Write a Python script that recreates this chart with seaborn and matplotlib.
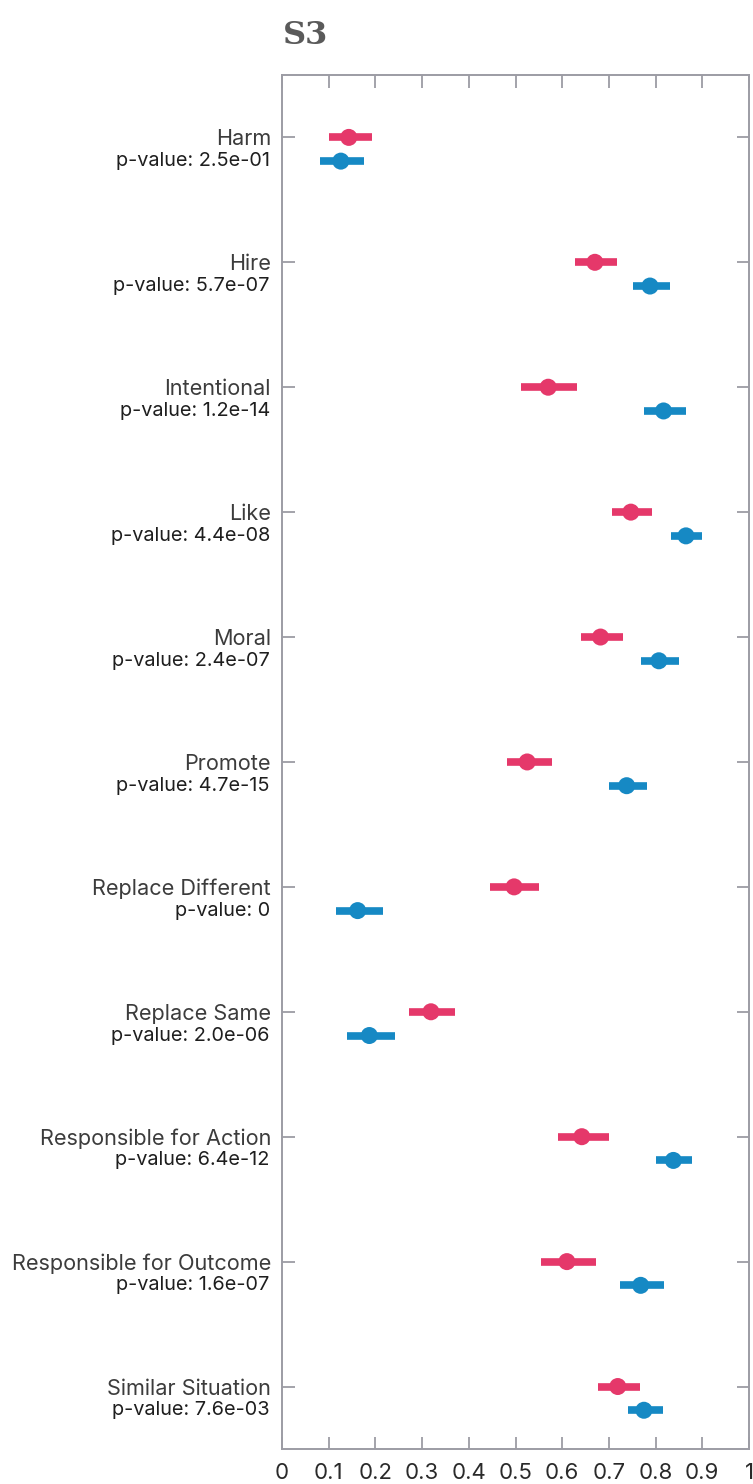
import numpy as np
import pandas as pd
import seaborn as sns
import matplotlib.pyplot as plt
import matplotlib.transforms as mtransforms

# values
categories = ['Harm', 'Hire', 'Intentional', 'Like', 'Moral', 'Promote',
              'Replace Different', 'Replace Same', 'Responsible for Action',
              'Responsible for Outcome', 'Similar Situation']
p_values = ['2.5e-01', '5.7e-07', '1.2e-14', '4.4e-08', '2.4e-07', '4.7e-15',
            '0', '2.0e-06', '6.4e-12', '1.6e-07', '7.6e-03']

red_mean = [0.143, 0.670, 0.570, 0.747, 0.682, 0.525, 0.497, 0.319, 0.642, 0.610, 0.719]
red_low = [0.100, 0.628, 0.512, 0.706, 0.640, 0.481, 0.445, 0.273, 0.590, 0.554, 0.677]
red_high = [0.193, 0.717, 0.632, 0.793, 0.731, 0.579, 0.550, 0.370, 0.701, 0.672, 0.767]

blue_mean = [0.126, 0.788, 0.817, 0.865, 0.807, 0.738, 0.162, 0.187, 0.838, 0.768, 0.775]
blue_low = [0.081, 0.752, 0.775, 0.834, 0.769, 0.701, 0.116, 0.140, 0.801, 0.724, 0.741]
blue_high = [0.176, 0.831, 0.865, 0.899, 0.851, 0.781, 0.216, 0.241, 0.878, 0.819, 0.816]

RED = '#e5386a'
BLUE = '#1689c4'
FRAME = '#9c9ca4'
OFFSET = 0.19

sns.set_theme(style='white')
plt.rcParams['font.family'] = ['Inter', 'DejaVu Sans']

pos = np.arange(len(categories))
df = pd.concat([
    pd.DataFrame({'cat': categories, 'y': pos, 'mean': red_mean,
                  'low': red_low, 'high': red_high, 'group': 'red'}),
    pd.DataFrame({'cat': categories, 'y': pos + OFFSET, 'mean': blue_mean,
                  'low': blue_low, 'high': blue_high, 'group': 'blue'}),
])
palette = {'red': RED, 'blue': BLUE}

fig = plt.figure(figsize=(7.53, 14.84), dpi=100)
ax = fig.add_axes([0.3745, 0.0236, 0.6202, 0.9259])

for grp, sub in df.groupby('group'):
    ax.hlines(sub['y'], sub['low'], sub['high'], color=palette[grp], lw=5.5, zorder=2)

sns.scatterplot(data=df, x='mean', y='y', hue='group', palette=palette,
                s=150, edgecolor='none', legend=False, zorder=3, ax=ax)

ax.set_xlim(0, 1)
ax.set_ylim(len(categories) - 0.5, -0.5)
ax.set_xticks(np.arange(0, 1.01, 0.1))
ax.set_xticklabels(['0'] + [f'{v:.1f}' for v in np.arange(0.1, 0.95, 0.1)] + ['1'])
ax.set_yticks(pos)
ax.set_yticklabels(categories)
ax.set_xlabel('')
ax.set_ylabel('')

ax.tick_params(axis='both', direction='in', length=9, width=1.3, color=FRAME,
               top=True, right=True, bottom=True, left=True)
ax.tick_params(axis='x', labelsize=16, labelcolor='#2a2a2a', pad=10)
ax.tick_params(axis='y', labelsize=15.6, labelcolor='#3c3c3c', pad=8)
for s in ax.spines.values():
    s.set_color(FRAME)
    s.set_linewidth(1.4)

# p-value under every category label
trans = mtransforms.blended_transform_factory(ax.transAxes, ax.transData)
for i, p in enumerate(p_values):
    ax.text(-0.026, i + OFFSET, f'p-value: {p}', transform=trans, ha='right',
            va='center', fontsize=14.3, color='#1e1e1e')

fig.text(0.376, 0.976, 'S3', fontsize=23, fontweight='bold', color='#5a5a5a',
         family='DejaVu Serif', va='center', ha='left')

fig.savefig('out.png', dpi=100, facecolor='white')
